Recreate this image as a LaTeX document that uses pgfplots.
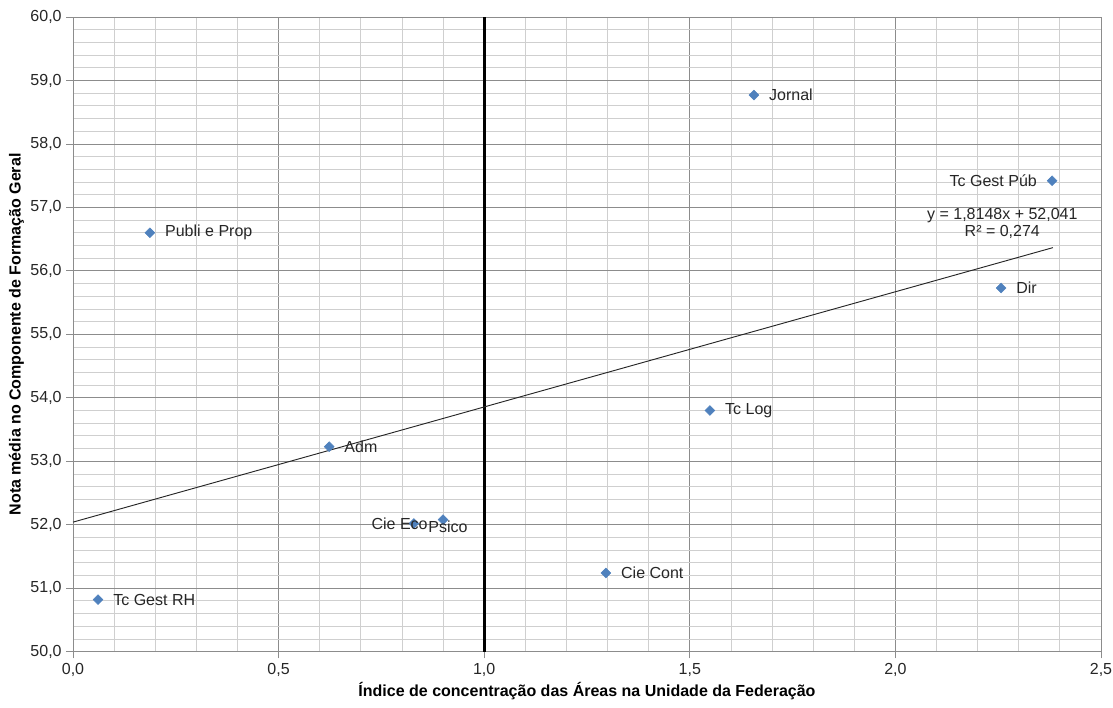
\documentclass[border=0pt]{standalone}
\usepackage{pgfplots}
\pgfplotsset{compat=1.18}
\usepackage{fontspec}
\setmainfont{Liberation Sans}
\definecolor{ptblue}{HTML}{4F81BD}
\definecolor{majgrid}{HTML}{8C8C8C}
\definecolor{mingrid}{HTML}{CFCFCF}

\pgfplotsset{
  pts/.style 2 args={
    only marks, mark=square*, mark size=2.6pt,
    mark options={fill=ptblue, draw=ptblue, rotate=45},
    nodes near coords, point meta=explicit symbolic,
    every node near coord/.append style={
      anchor=#1, inner sep=0pt, xshift=#2,
      font=\fontsize{12}{14}\selectfont, text=black!85},
  },
}

\begin{document}
\begin{tikzpicture}
\useasboundingbox (-54.75pt,-42pt) rectangle (780pt,488.75pt);
\begin{axis}[
  at={(0,0)}, anchor=south west,
  scale only axis,
  width=771pt, height=476pt,
  xmin=0, xmax=2.5, ymin=50, ymax=60,
  xtick={0,0.5,...,2.5},
  ytick={50,51,...,60},
  minor x tick num=4,
  minor y tick num=4,
  grid=both,
  major grid style={majgrid, line width=0.6pt},
  minor grid style={mingrid, line width=0.6pt},
  axis line style={majgrid, line width=0.7pt},
  tick style={majgrid, line width=0.6pt},
  major tick length=5pt,
  minor tick length=0pt,
  tick align=outside,
  xtick pos=bottom, ytick pos=left,
  ticklabel style={font=\fontsize{12}{14}\selectfont, text=black!85},
  /pgf/number format/.cd, use comma, fixed, fixed zerofill, precision=1, assume math mode=true,
  /pgfplots/.cd,
  xlabel={\textbf{Índice de concentração das Áreas na Unidade da Federação}},
  ylabel={\textbf{Nota média no Componente de Formação Geral}},
  label style={font=\fontsize{12}{14}\selectfont},
  xlabel style={yshift=2pt},
  ylabel style={yshift=-2pt},
  clip=false,
]
% vertical reference line at x = 1
\addplot[black, line width=2.4pt, forget plot] coordinates {(1,50) (1,60)};
% linear trend line
\addplot[black!85, line width=0.7pt] coordinates {(0,52.041) (2.383,56.366)};
% points with labels
\addplot[pts={west}{11.25pt}] coordinates {
  (0.187,56.60) [Publi e Prop]
  (1.656,58.77) [Jornal]
  (2.257,55.73) [Dir]
  (1.549,53.80) [Tc Log]
  (0.623,53.23) [Adm]
  (1.296,51.24) [Cie Cont]
  (0.061,50.82) [Tc Gest RH]
};
\addplot[pts={east}{-11.25pt}] coordinates {(2.381,57.42) [Tc Gest Púb]};
\addplot[pts={east}{10.5pt}] coordinates {(0.829,52.02) [Cie Eco]};
\addplot[pts={west}{-11.25pt}, every node near coord/.append style={yshift=-5pt}] coordinates {(0.900,52.08) [Psico]};
\node[align=center, font=\fontsize{12}{13}\selectfont, text=black!85, inner sep=0pt]
  at (axis cs:2.26,56.75) {y = 1,8148x + 52,041\\R² = 0,274};
\end{axis}
\end{tikzpicture}
\end{document}
